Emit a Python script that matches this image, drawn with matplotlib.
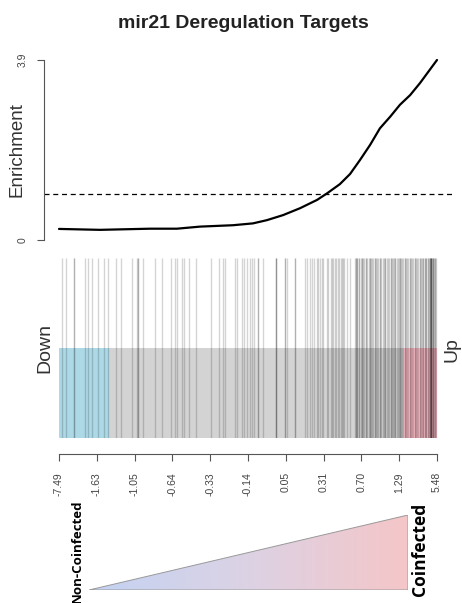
import numpy as np
import matplotlib
matplotlib.use("Agg")
import matplotlib.pyplot as plt
from matplotlib.colors import LinearSegmentedColormap
from matplotlib.patches import Polygon

# running enrichment curve (x = rank fraction, y = enrichment)
curve_x = [0.0, 0.108, 0.241, 0.312, 0.373, 0.460, 0.513, 0.550, 0.593, 0.638, 0.683,
           0.709, 0.743, 0.770, 0.796, 0.823, 0.849, 0.876, 0.902, 0.929, 0.955, 1.0]
curve_y = [0.24, 0.22, 0.245, 0.245, 0.29, 0.32, 0.36, 0.43, 0.54, 0.69, 0.87,
           1.01, 1.21, 1.43, 1.73, 2.06, 2.42, 2.67, 2.93, 3.14, 3.40, 3.90]
expected = 1.0
ymax = 3.9

# rank positions of target genes (fraction of ranked list)
bar_pos = [0.007, 0.018, 0.040, 0.040, 0.069, 0.078, 0.087, 0.102, 0.119, 0.130, 0.151,
           0.163, 0.194, 0.206, 0.210, 0.210, 0.223, 0.254, 0.272, 0.296, 0.307, 0.311,
           0.325, 0.331, 0.344, 0.362, 0.402, 0.424, 0.435, 0.439, 0.466, 0.470, 0.483,
           0.490, 0.497, 0.505, 0.510, 0.516, 0.527, 0.527, 0.539, 0.573, 0.573, 0.573,
           0.598, 0.598, 0.602, 0.624, 0.624, 0.652, 0.655, 0.664, 0.668, 0.675, 0.682,
           0.686, 0.690, 0.695, 0.699, 0.708, 0.711, 0.719, 0.721, 0.726, 0.730, 0.733,
           0.739, 0.742, 0.745, 0.748, 0.752, 0.755, 0.761, 0.770, 0.784, 0.786, 0.786,
           0.789, 0.789, 0.794, 0.794, 0.798, 0.801, 0.801, 0.804, 0.807, 0.812, 0.812,
           0.816, 0.819, 0.822, 0.822, 0.825, 0.828, 0.832, 0.835, 0.835, 0.838, 0.842,
           0.845, 0.848, 0.848, 0.852, 0.857, 0.860, 0.863, 0.863, 0.867, 0.870, 0.873,
           0.878, 0.878, 0.881, 0.884, 0.887, 0.890, 0.890, 0.894, 0.897, 0.900, 0.903,
           0.903, 0.906, 0.908, 0.911, 0.915, 0.915, 0.918, 0.921, 0.924, 0.928, 0.928,
           0.931, 0.934, 0.937, 0.941, 0.941, 0.944, 0.948, 0.951, 0.954, 0.954, 0.958,
           0.961, 0.963, 0.963, 0.967, 0.969, 0.972, 0.972, 0.976, 0.976, 0.979, 0.981,
           0.981, 0.981, 0.985, 0.985, 0.985, 0.985, 0.985, 0.987, 0.989, 0.989, 0.989,
           0.992, 0.994, 0.996, 0.998]

# down / up regions of the statistic
down_end = 0.132
up_start = 0.913
stat_labels = ["-7.49", "-1.63", "-1.05", "-0.64", "-0.33", "-0.14",
               "0.05", "0.31", "0.70", "1.29", "5.48"]

W, H = 462, 603
fig = plt.figure(figsize=(W / 100, H / 100), dpi=100)
plt.rcParams['font.family'] = ['Liberation Sans', 'DejaVu Sans']


def fx(px):
    return px / W


def fy(py):
    return 1 - py / H


pad = 15 / 378
grey = "#555555"

# --- enrichment panel ---
ax1 = fig.add_axes([fx(44), fy(247.2), fx(408), 194.4 / H])
ax1.plot(curve_x, curve_y, color="black", lw=1.6, solid_capstyle="round")
ax1.axhline(expected, color="black", lw=0.9, ls=(0, (4, 3)))
ax1.set_xlim(-pad, 1 + pad)
ax1.set_ylim(-0.04 * ymax, 1.04 * ymax)
for s in ["top", "right", "bottom"]:
    ax1.spines[s].set_visible(False)
ax1.spines["left"].set_bounds(0, ymax)
ax1.spines["left"].set_color(grey)
ax1.spines["left"].set_linewidth(0.8)
ax1.set_xticks([])
ax1.set_yticks([0, ymax])
ax1.set_yticklabels(["0", "3.9"], rotation=90, va="center", fontsize=7.5, color="#444444")
ax1.tick_params(axis="y", length=5, width=0.8, color=grey, pad=7)
fig.text(fx(17), fy(150), "Enrichment", rotation=90, ha="center", va="center",
         fontsize=13.5, color="#333333")
fig.text(fx(243), fy(24), "mir21 Deregulation Targets", ha="center", va="center",
         fontsize=14, fontweight="bold", color="#222222")

# --- barcode panel ---
ax2 = fig.add_axes([fx(44), fy(438), fx(408), 180 / H])
ax2.set_xlim(-pad, 1 + pad)
ax2.set_ylim(0, 1)
ax2.add_patch(plt.Rectangle((0, 0), down_end, 0.5, color="#add8e6", lw=0))
ax2.add_patch(plt.Rectangle((down_end, 0), up_start - down_end, 0.5, color="#d3d3d3", lw=0))
ax2.add_patch(plt.Rectangle((up_start, 0), 1 - up_start, 0.5, color="#ffc0cb", lw=0))
ax2.vlines(bar_pos, 0, 1, color="black", alpha=0.17, lw=1.0)
for s in ["top", "right", "left"]:
    ax2.spines[s].set_visible(False)
ax2.spines["bottom"].set_position(("outward", 11.5))
ax2.spines["bottom"].set_bounds(0, 1)
ax2.spines["bottom"].set_color(grey)
ax2.spines["bottom"].set_linewidth(0.8)
ax2.set_yticks([])
ax2.set_xticks(np.linspace(0, 1, len(stat_labels)))
ax2.set_xticklabels(stat_labels, rotation=90, fontsize=7.5, color="#444444")
ax2.tick_params(axis="x", length=5, width=0.8, color=grey, pad=8)
fig.text(fx(45), fy(348), "Down", rotation=90, ha="center", va="center",
         fontsize=14, color="#333333")
fig.text(fx(452), fy(350), "Up", rotation=90, ha="center", va="center",
         fontsize=14, color="#333333")

# --- gradient triangle legend ---
ax3 = fig.add_axes([fx(89), fy(590), fx(319), 75 / H])
ax3.set_xlim(0, 1)
ax3.set_ylim(0, 1)
ax3.axis("off")
cmap = LinearSegmentedColormap.from_list("nc", ["#c3d2f3", "#dcd2e4", "#f5c6c8"])
img = ax3.imshow(np.linspace(0, 1, 256)[None, :], cmap=cmap, aspect="auto",
                 extent=(0, 1, 0, 1), origin="lower")
tri = Polygon([(0, 0), (1, 0), (1, 1)], closed=True, fc="none", ec="#999999", lw=0.7)
ax3.add_patch(tri)
img.set_clip_path(tri)
fig.text(fx(77), fy(551), "Non-Coinfected", rotation=90, ha="center", va="center",
         fontsize=9.5, fontweight="bold", family=["Open Sans", "DejaVu Sans"])
fig.text(fx(420), fy(549), "Coinfected", rotation=90, ha="center", va="center",
         fontsize=12.5, fontweight="bold", family=["Open Sans", "DejaVu Sans"])

fig.savefig("out.png", dpi=100)
